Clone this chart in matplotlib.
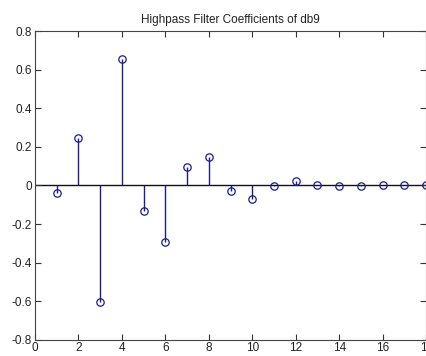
import matplotlib
matplotlib.use("Agg")
import matplotlib.pyplot as plt
import numpy as np

# db9 highpass decomposition filter
n = np.arange(1, 19)
coeffs = [-0.0381, 0.2438, -0.6048, 0.6573, -0.1332, -0.2933, 0.0968, 0.1485,
          -0.0307, -0.0676, -0.0003, 0.0224, 0.0047, -0.0043, -0.0018, 0.0002,
          0.0003, 0.0000]

plt.rcParams['font.family'] = ['Liberation Sans', 'DejaVu Sans']
plt.rcParams['font.size'] = 8.5

fig = plt.figure(figsize=(4.27, 3.56), dpi=100)
ax = fig.add_axes([0.082, 0.046, 0.916, 0.866])

col = '#1c1c8a'
markerline, stemlines, baseline = ax.stem(n, coeffs)
plt.setp(stemlines, color=col, linewidth=1.0)
plt.setp(markerline, marker='o', markersize=5.3, markerfacecolor='none',
         markeredgecolor=col, markeredgewidth=0.9)
baseline.set_visible(False)
ax.axhline(0, color='#111111', linewidth=1.0, zorder=1)

ax.set_xlim(0, 18)
ax.set_ylim(-0.8, 0.8)
ax.set_xticks(np.arange(0, 19, 2))
ax.set_yticks(np.arange(-0.8, 0.81, 0.2))
ax.set_yticklabels(['-0.8', '-0.6', '-0.4', '-0.2', '0', '0.2', '0.4', '0.6', '0.8'])
ax.tick_params(direction='in', top=True, right=True, length=4, width=0.8,
               colors='#333333', labelcolor='#222222', pad=2)
for s in ax.spines.values():
    s.set_color('#444444')
    s.set_linewidth(0.8)

ax.set_title('Highpass Filter Coefficients of db9', fontsize=8.5, pad=6, color='#222222')

fig.savefig('out.png', dpi=100)
